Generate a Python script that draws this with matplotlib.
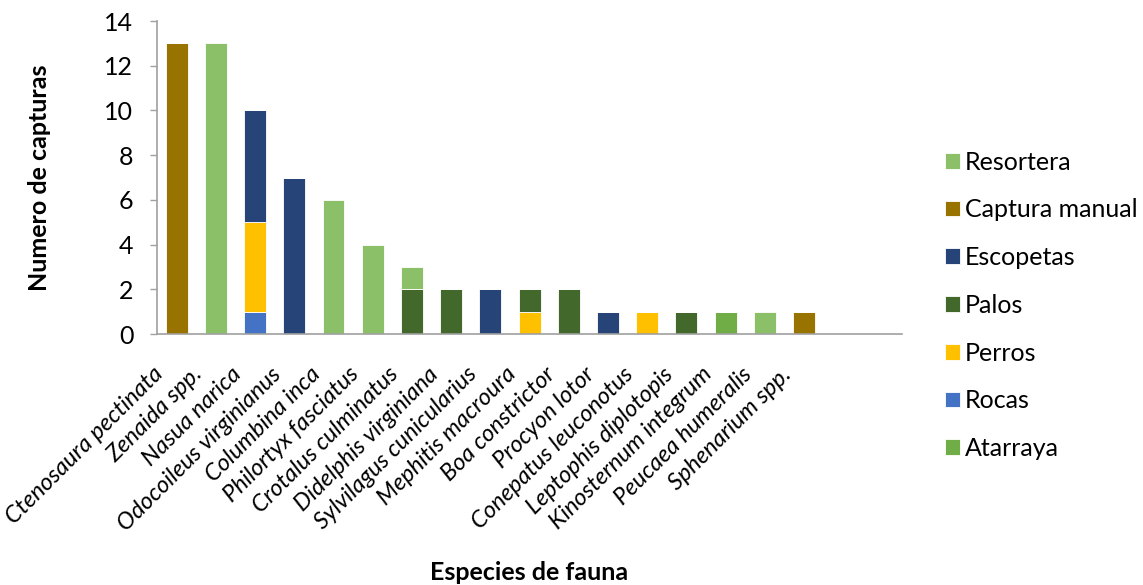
import matplotlib.pyplot as plt
import matplotlib.transforms as mtransforms
import numpy as np

plt.rcParams['font.family'] = ['Lato', 'DejaVu Sans']

species = ['Ctenosaura pectinata', 'Zenaida spp.', 'Nasua narica', 'Odocoileus virginianus',
           'Columbina inca', 'Philortyx fasciatus', 'Crotalus culminatus', 'Didelphis virginiana',
           'Sylvilagus cunicularius', 'Mephitis macroura', 'Boa constrictor', 'Procyon lotor',
           'Conepatus leuconotus', 'Leptophis diplotopis', 'Kinosternum integrum',
           'Peucaea humeralis', 'Sphenarium spp.', '', '']

# series in stacking order (bottom first)
atarraya = [0, 0, 0, 0, 0, 0, 0, 0, 0, 0, 0, 0, 0, 0, 1, 0, 0, 0, 0]
rocas = [0, 0, 1, 0, 0, 0, 0, 0, 0, 0, 0, 0, 0, 0, 0, 0, 0, 0, 0]
perros = [0, 0, 4, 0, 0, 0, 0, 0, 0, 1, 0, 0, 1, 0, 0, 0, 0, 0, 0]
palos = [0, 0, 0, 0, 0, 0, 2, 2, 0, 1, 2, 0, 0, 1, 0, 0, 0, 0, 0]
escopetas = [0, 0, 5, 7, 0, 0, 0, 0, 2, 0, 0, 1, 0, 0, 0, 0, 0, 0, 0]
captura_manual = [13, 0, 0, 0, 0, 0, 0, 0, 0, 0, 0, 0, 0, 0, 0, 0, 1, 0, 0]
resortera = [0, 13, 0, 0, 6, 4, 1, 0, 0, 0, 0, 0, 0, 0, 0, 1, 0, 0, 0]

series = [
    ('Atarraya', atarraya, '#70AD47'),
    ('Rocas', rocas, '#4472C4'),
    ('Perros', perros, '#FFC000'),
    ('Palos', palos, '#43682B'),
    ('Escopetas', escopetas, '#264478'),
    ('Captura manual', captura_manual, '#997300'),
    ('Resortera', resortera, '#8CC068'),
]

fig = plt.figure(figsize=(11.43, 5.85), dpi=100)
ax = fig.add_axes([0.1374, 0.429, 0.6518, 0.535])

x = np.arange(len(species))
bottom = np.zeros(len(species))
handles = []
for name, vals, color in series:
    vals = np.array(vals, dtype=float)
    b = ax.bar(x, vals, 0.56, bottom=bottom, color=color, label=name,
               edgecolor='white', linewidth=0.6)
    handles.append(b)
    bottom += vals

ax.set_xlim(-0.5, len(species) - 0.5)
ax.set_ylim(0, 14)
ax.set_yticks(np.arange(0, 15, 2))
ax.set_xticks(x)
ax.tick_params(axis='x', length=0, pad=20)
ax.tick_params(axis='y', labelsize=18, length=5, color='#A0A0A0', width=1, pad=12)
ax.set_xticklabels(species, rotation=45, ha='right', va='center', rotation_mode='anchor',
                   fontstyle='italic', fontsize=17)
# nudge the rotated labels left/down like the original
shift = mtransforms.ScaledTranslation(-12 / 72, -6.5 / 72, fig.dpi_scale_trans)
for lbl in ax.get_xticklabels():
    lbl.set_transform(lbl.get_transform() + shift)
for side in ['top', 'right']:
    ax.spines[side].set_visible(False)
for side in ['left', 'bottom']:
    ax.spines[side].set_color('#A0A0A0')
    ax.spines[side].set_linewidth(1.2)

ax.set_ylabel('Numero de capturas', fontsize=18, fontweight='bold')
ax.yaxis.set_label_coords(-0.143, 0.5)
ax.set_xlabel('Especies de fauna', fontsize=18, fontweight='bold')
ax.xaxis.set_label_coords(0.5, -0.725)

fig.legend(handles[::-1], [s[0] for s in series][::-1], loc='upper left',
           bbox_to_anchor=(0.807, 0.781), frameon=False, fontsize=18,
           handlelength=0.6, handleheight=0.6, handletextpad=0.2,
           labelspacing=0.99)

fig.savefig('out.png', dpi=100)
